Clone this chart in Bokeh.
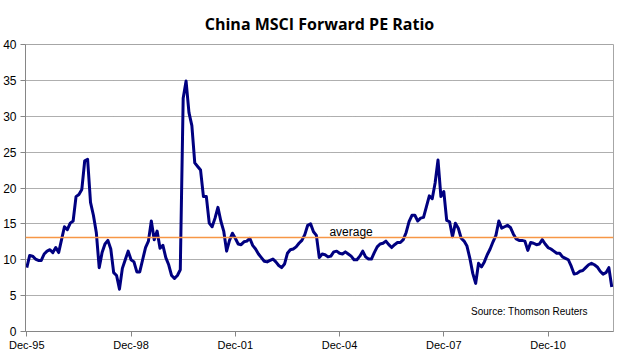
from bokeh.plotting import figure
from bokeh.models import Range1d, FixedTicker, Label, Span
from bokeh.embed import file_html
from bokeh.resources import INLINE

# Monthly forward PE, Dec-95 onwards
pe_ratio = [
    8.9, 10.6, 10.5, 10.1, 9.9, 9.9, 10.8, 11.2, 11.4, 11.0, 11.7, 11.0,
    12.8, 14.6, 14.2, 15.1, 15.4, 18.8, 19.1, 19.8, 23.8, 24.0, 18.0, 16.2,
    13.8, 8.9, 11.0, 12.2, 12.7, 11.5, 8.2, 7.8, 5.9, 8.8, 10.0, 11.2,
    10.0, 9.7, 8.3, 8.3, 10.0, 11.7, 12.6, 15.4, 12.8, 14.0, 11.6, 12.0,
    10.3, 9.3, 7.8, 7.4, 7.8, 8.6, 32.5, 34.9, 30.5, 28.7, 23.5, 23.0,
    22.5, 18.8, 18.8, 15.1, 14.6, 15.8, 17.3, 15.4, 14.0, 11.2, 12.7, 13.7,
    13.0, 12.2, 12.1, 12.5, 12.6, 13.0, 12.0, 11.5, 10.8, 10.3, 9.8, 9.7,
    9.9, 10.1, 9.7, 9.2, 8.9, 9.4, 10.9, 11.4, 11.5, 11.8, 12.3, 12.7,
    13.5, 14.8, 15.0, 13.9, 13.4, 10.3, 10.8, 10.7, 10.4, 10.5, 11.1, 11.2,
    10.9, 10.8, 11.1, 10.8, 10.5, 10.0, 10.0, 10.5, 11.2, 10.4, 10.1, 10.1,
    11.0, 11.8, 12.2, 12.3, 12.6, 12.1, 11.7, 12.1, 12.4, 12.4, 12.8, 13.8,
    15.3, 16.2, 16.2, 15.4, 15.8, 15.9, 17.4, 18.9, 18.5, 20.7, 23.9, 18.8,
    19.5, 15.5, 15.3, 13.2, 15.1, 14.4, 13.0, 12.6, 11.9, 10.2, 8.1, 6.7,
    9.5, 9.0, 9.7, 10.7, 11.5, 12.5, 13.4, 15.4, 14.4, 14.6, 14.8, 14.5,
    13.6, 12.9, 12.7, 12.7, 12.6, 11.3, 12.4, 12.3, 12.1, 12.2, 12.8, 12.2,
    11.7, 11.5, 11.2, 10.9, 10.9, 10.4, 10.2, 10.0, 9.1, 8.0, 8.1, 8.4,
    8.5, 8.9, 9.3, 9.5, 9.3, 9.0, 8.4, 8.0, 8.2, 8.9, 6.2,
]
months = list(range(len(pe_ratio)))

tick_months = [0, 36, 72, 108, 144, 180]
tick_labels = ["Dec-95", "Dec-98", "Dec-01", "Dec-04", "Dec-07", "Dec-10"]
y_ticks = [0, 5, 10, 15, 20, 25, 30, 35, 40]
average_pe = 13.1

p = figure(width=616, height=355, output_backend="svg", toolbar_location=None,
           x_range=Range1d(-0.45, 202.6), y_range=Range1d(0, 40),
           min_border_left=19, min_border_right=3, min_border_top=44,
           min_border_bottom=24)

p.title.text = "China MSCI Forward PE Ratio"
p.title.align = "center"
p.title.text_font = "Open Sans"
p.title.text_font_style = "bold"
p.title.text_font_size = "16px"
p.title.text_color = "#000000"
p.title.standoff = 19

p.outline_line_color = "#A6A6A6"
p.background_fill_color = "white"

for ax in (p.xaxis[0], p.yaxis[0]):
    ax.axis_line_color = "#868686"
    ax.major_tick_line_color = "#868686"
    ax.minor_tick_line_color = None
    ax.major_tick_in = 0
    ax.major_tick_out = 5
    ax.major_label_text_font = "Liberation Sans"
    ax.major_label_text_color = "#000000"

p.xaxis.ticker = FixedTicker(ticks=tick_months)
p.xaxis.major_label_overrides = {m: l for m, l in zip(tick_months, tick_labels)}
p.xaxis.major_label_text_font_size = "11px"
p.xaxis.major_label_standoff = 2

p.yaxis.ticker = FixedTicker(ticks=y_ticks)
p.yaxis.major_label_text_font_size = "12px"
p.yaxis.major_label_standoff = 4

p.xgrid.grid_line_color = None
p.ygrid.grid_line_color = "#5F5F5F"
p.ygrid.grid_line_dash = "1 1"
p.ygrid.grid_line_width = 1

p.add_layout(Span(location=average_pe, dimension="width",
                  line_color="#F79646", line_width=1.5))

p.line(months, pe_ratio, line_color="#000080", line_width=3, line_join="round")

p.add_layout(Label(x=104.5, y=13.9, text="average", text_font="Liberation Sans",
                   text_font_size="12px", text_color="#000000",
                   text_baseline="alphabetic"))
p.add_layout(Label(x=153.4, y=2.8, text="Source: Thomson Reuters",
                   text_font="Liberation Sans", text_font_size="10px",
                   text_color="#000000", text_baseline="middle"))

open("out.html", "w").write(file_html(p, INLINE))
